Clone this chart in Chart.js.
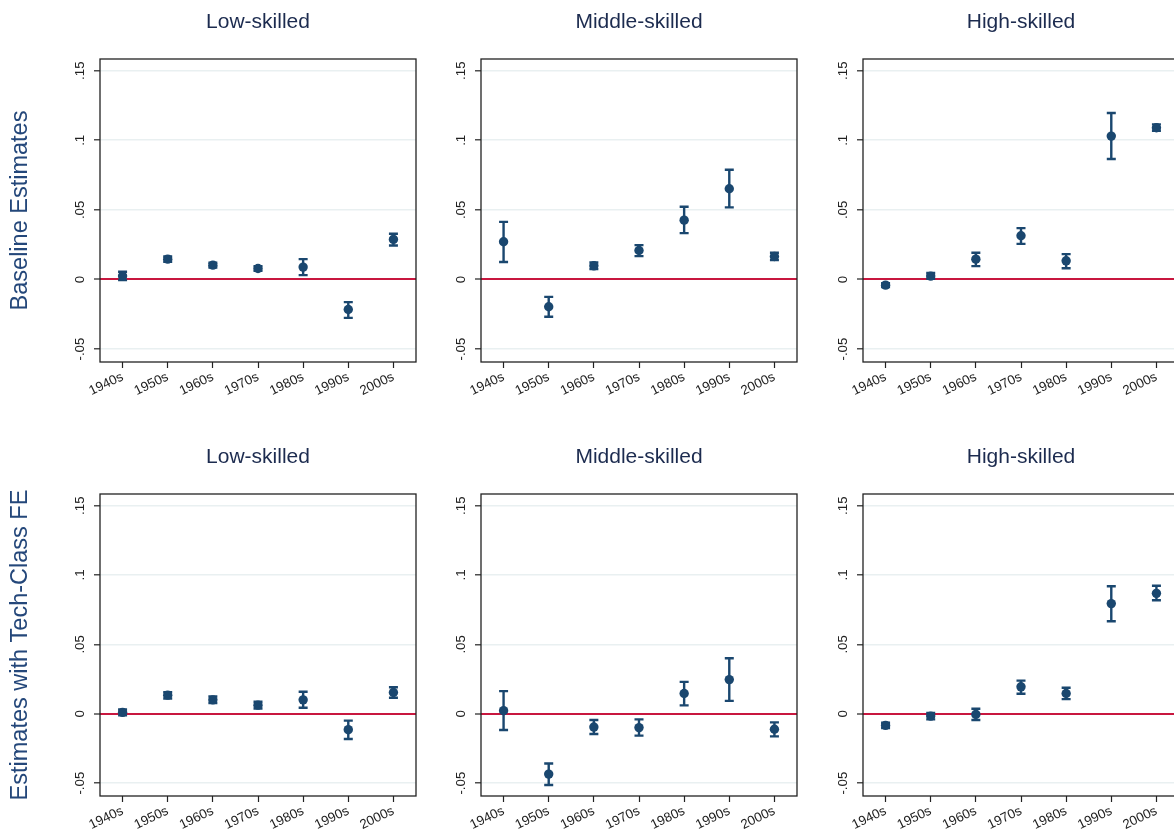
<!DOCTYPE html>
<html>
<head>
<meta charset="utf-8">
<script src="https://cdn.jsdelivr.net/npm/chart.js@4.4.1/dist/chart.umd.min.js"></script>
<style>
  html, body { margin: 0; padding: 0; background: #fff; overflow: hidden; }
  body { width: 1174px; height: 829px; position: relative; }
  canvas { position: absolute; }
</style>
</head>
<body>
<canvas id="c00"></canvas>
<canvas id="c01"></canvas>
<canvas id="c02"></canvas>
<canvas id="c10"></canvas>
<canvas id="c11"></canvas>
<canvas id="c12"></canvas>
<script>
const decades = ["1940s", "1950s", "1960s", "1970s", "1980s", "1990s", "2000s"];
const skillGroups = ["Low-skilled", "Middle-skilled", "High-skilled"];
const rowLabels = ["Baseline Estimates", "Estimates with Tech-Class FE"];
const yTicks = [-0.05, 0, 0.05, 0.1, 0.15];
const yTickLabels = ["-.05", "0", ".05", ".1", ".15"];

// Baseline estimates (point estimate, lower and upper bound of the CI)
const baseLowEst = [0.0024, 0.0146, 0.0103, 0.0079, 0.0089, -0.0216, 0.0288];
const baseLowLo = [-0.0005, 0.0127, 0.0086, 0.0062, 0.0031, -0.0276, 0.0244];
const baseLowHi = [0.0055, 0.0165, 0.0120, 0.0096, 0.0146, -0.0163, 0.0328];

const baseMidEst = [0.0271, -0.0196, 0.0098, 0.0208, 0.0426, 0.0652, 0.0165];
const baseMidLo = [0.0125, -0.0268, 0.0074, 0.0168, 0.0333, 0.0518, 0.0139];
const baseMidHi = [0.0414, -0.0125, 0.0122, 0.0247, 0.0522, 0.0788, 0.0192];

const baseHighEst = [-0.0041, 0.0024, 0.0146, 0.0314, 0.0134, 0.1030, 0.1090];
const baseHighLo = [-0.0055, 0.0005, 0.0096, 0.0256, 0.0081, 0.0865, 0.1069];
const baseHighHi = [-0.0026, 0.0046, 0.0192, 0.0369, 0.0182, 0.1196, 0.1114];

// Estimates with tech-class fixed effects
const feLowEst = [0.0010, 0.0134, 0.0100, 0.0062, 0.0100, -0.0115, 0.0153];
const feLowLo = [-0.0012, 0.0110, 0.0077, 0.0038, 0.0043, -0.0182, 0.0115];
const feLowHi = [0.0031, 0.0156, 0.0124, 0.0086, 0.0158, -0.0050, 0.0191];

const feMidEst = [0.0022, -0.0435, -0.0096, -0.0100, 0.0146, 0.0246, -0.0112];
const feMidLo = [-0.0117, -0.0514, -0.0146, -0.0158, 0.0060, 0.0093, -0.0163];
const feMidHi = [0.0163, -0.0359, -0.0045, -0.0041, 0.0230, 0.0400, -0.0062];

const feHighEst = [-0.0084, -0.0017, -0.0005, 0.0194, 0.0146, 0.0794, 0.0868];
const feHighLo = [-0.0103, -0.0041, -0.0045, 0.0144, 0.0105, 0.0667, 0.0818];
const feHighHi = [-0.0065, 0.0005, 0.0036, 0.0239, 0.0187, 0.0919, 0.0923];

const navy = "#1a476f";

const panels = [
  [[baseLowEst, baseLowLo, baseLowHi], [baseMidEst, baseMidLo, baseMidHi], [baseHighEst, baseHighLo, baseHighHi]],
  [[feLowEst, feLowLo, feLowHi], [feMidEst, feMidLo, feMidHi], [feHighEst, feHighLo, feHighHi]],
];

// layout of the canvases (they overlap; an empty right axis keeps the title centred on the plot)
const rowTop = [0, 435];
const rowHeight = [430, 394];
const rowBottom = [362, 361];
const colLeft = [0, 431, 813];
const yAxisWidth = [100, 50, 50];
const plotWidth = 316;

// draws the confidence intervals with caps, under the markers
const errorBars = {
  id: "errorBars",
  beforeDatasetsDraw(chart) {
    const { ctx, scales: { x, y } } = chart;
    const ds = chart.data.datasets[0];
    ctx.save();
    ctx.strokeStyle = navy;
    ctx.lineWidth = 2.4;
    ds.lo.forEach((lo, i) => {
      const px = x.getPixelForValue(i);
      const yl = y.getPixelForValue(lo);
      const yh = y.getPixelForValue(ds.hi[i]);
      ctx.beginPath();
      ctx.moveTo(px, yl); ctx.lineTo(px, yh);
      ctx.moveTo(px - 4.5, yl); ctx.lineTo(px + 4.5, yl);
      ctx.moveTo(px - 4.5, yh); ctx.lineTo(px + 4.5, yh);
      ctx.stroke();
    });
    ctx.restore();
  },
};

// plot region border
const frame = {
  id: "frame",
  afterDraw(chart) {
    const { ctx, chartArea: a } = chart;
    ctx.save();
    ctx.strokeStyle = "#222";
    ctx.lineWidth = 1.3;
    ctx.strokeRect(a.left, a.top, a.right - a.left, a.bottom - a.top);
    ctx.restore();
  },
};

function makePanel(r, c) {
  const canvas = document.getElementById("c" + r + c);
  canvas.width = yAxisWidth[c] * 2 + plotWidth;
  canvas.height = rowHeight[r];
  canvas.style.left = colLeft[c] + "px";
  canvas.style.top = rowTop[r] + "px";
  const [est, lo, hi] = panels[r][c];
  const xHeight = rowHeight[r] - rowBottom[r];

  return new Chart(canvas, {
    type: "line",
    data: {
      labels: decades,
      datasets: [{
        data: est,
        lo: lo,
        hi: hi,
        showLine: false,
        pointRadius: 4.7,
        pointHoverRadius: 4.7,
        pointBackgroundColor: navy,
        pointBorderWidth: 0,
        borderColor: navy,
      }],
    },
    options: {
      responsive: false,
      animation: false,
      devicePixelRatio: 1,
      layout: { padding: 0 },
      plugins: {
        legend: { display: false },
        tooltip: { enabled: false },
        title: {
          display: true,
          text: skillGroups[c],
          color: "#1c2b4f",
          font: { family: "Liberation Sans, Arial, sans-serif", size: 21, weight: "normal" },
          padding: { top: 10, bottom: 23.8 },
        },
      },
      scales: {
        x: {
          type: "category",
          offset: true,
          border: { display: false },
          grid: { drawOnChartArea: false, drawTicks: true, tickLength: 6, tickColor: "#222", tickWidth: 1.2 },
          ticks: {
            color: "#222",
            font: { family: "Liberation Sans, Arial, sans-serif", size: 13.3 },
            minRotation: 26,
            maxRotation: 26,
            padding: 1,
            autoSkip: false,
          },
          afterFit: (s) => { s.height = xHeight; },
        },
        y: {
          min: -0.0593,
          max: 0.1584,
          border: { display: false },
          afterBuildTicks: (s) => { s.ticks = yTicks.map((v) => ({ value: v })); },
          grid: {
            color: (ctx) => (ctx.tick && ctx.tick.value === 0 ? "#c8173f" : "#e9f0f1"),
            lineWidth: (ctx) => (ctx.tick && ctx.tick.value === 0 ? 2 : 1.6),
            tickColor: "#222",
            tickLength: 6,
            tickWidth: 1.2,
          },
          ticks: {
            color: "#222",
            font: { family: "Liberation Sans, Arial, sans-serif", size: 13.3 },
            minRotation: 90,
            maxRotation: 90,
            crossAlign: "center",
            padding: 2,
            callback: (v) => yTickLabels[yTicks.indexOf(v)],
          },
          title: {
            display: c === 0,
            text: rowLabels[r],
            color: "#24477a",
            font: { family: "Liberation Sans, Arial, sans-serif", size: 23.5, weight: "normal" },
            padding: { top: 6, bottom: 0 },
          },
          afterFit: (s) => { s.width = yAxisWidth[c]; },
        },
        yr: {
          position: "right",
          min: 0,
          max: 1,
          border: { display: false },
          grid: { display: false },
          ticks: { display: false },
          afterFit: (s) => { s.width = yAxisWidth[c]; },
        },
      },
    },
    plugins: [errorBars, frame],
  });
}

for (let r = 0; r < 2; r++) {
  for (let c = 0; c < 3; c++) makePanel(r, c);
}
</script>
</body>
</html>
